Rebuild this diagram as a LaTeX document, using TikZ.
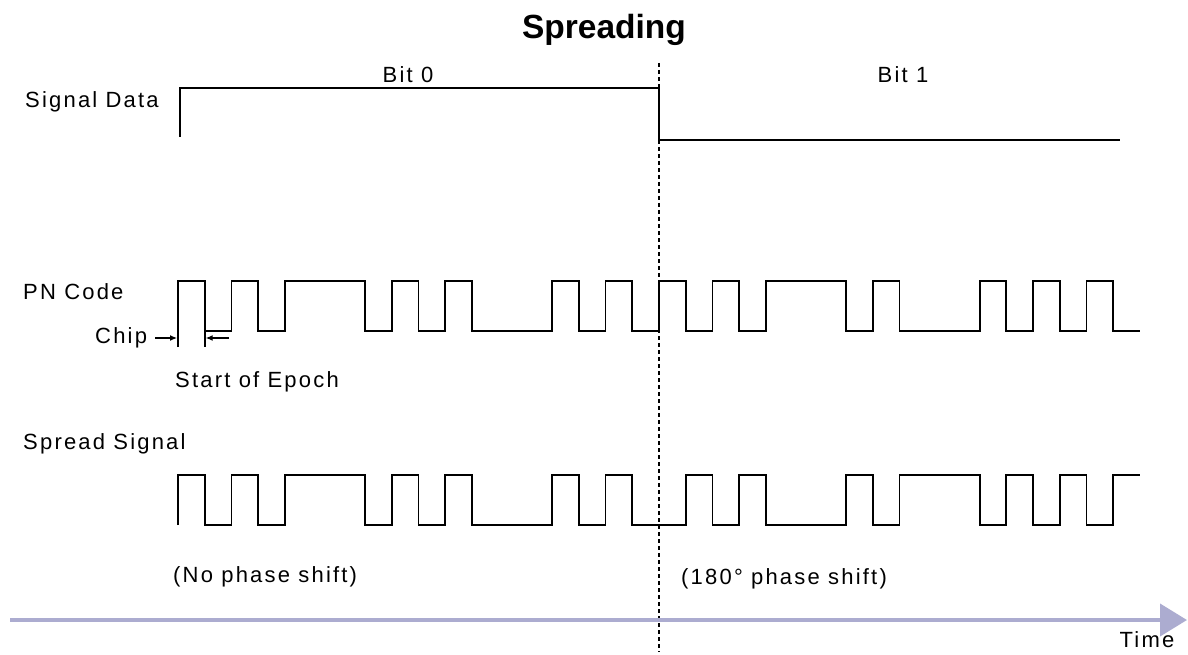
\documentclass[tikz,border=0pt]{standalone}
\usepackage{fontspec}
\setmainfont[LetterSpace=10]{Liberation Sans}
\newfontfamily\titlefont{Liberation Sans}
\usetikzlibrary{arrows.meta}
\definecolor{timeaxis}{RGB}{172,172,208}
\newcommand\pnbits{1,0,1,0,1,1,1,0,1,0,1,0,0,0,1,0,1,0,1,0,1,0,1,1,1,0,1,0,0,0,1,0,1,0,1,0}
\newcommand\chipw{26.72}

\begin{document}
\begin{tikzpicture}[x=1pt,y=-1pt,
  every node/.style={font=\fontsize{22}{26}\selectfont,inner sep=0pt},
  lbl/.style={anchor=west},
  wave/.style={line width=1.8pt,line join=miter},
  chiparrow/.style={line width=1.2pt,-{Latex[length=7pt,width=6pt]}},
  bitline/.style={line width=1.6pt,dash pattern=on 4pt off 3pt},
  timeline/.style={timeaxis,line width=4pt,-{Triangle[length=27pt,width=32pt]}}]
\useasboundingbox (0,0) rectangle (1188,655);
\node (title) at (604,30) {\titlefont\bfseries\fontsize{33.5}{40}\selectfont Spreading};
\node (bit0) at (408,75) {Bit 0};
\node (bit1) at (903,75) {Bit 1};
\node[lbl] (lbldata) at (25,102) {Signal Data};
\node[lbl] (lblpn) at (23,292) {PN Code};
\node[lbl] (lblchip) at (95,338) {Chip};
\node[lbl] (lblepoch) at (175,382) {Start of Epoch};
\node[lbl] (lblspread) at (23,444) {Spread Signal};
\node[lbl] (noshift) at (173,577) {(No phase shift)};
\node[lbl] (shift) at (681,579) {(180° phase shift)};
\node (time) at (1147,640) {Time};

% data bits
\draw[wave] (180,137) -- (180,88) -- (659,88) -- (659,140) -- (1120,140);
% pn code, 18 chips per bit
\draw[wave] (178,347) \foreach \b [count=\i from 0] in \pnbits
  {-- ({178+\i*\chipw},{331-50*\b}) -- ({178+(\i+1)*\chipw},{331-50*\b})};
\draw[wave] ({178+\chipw},331) -- ({178+\chipw},347);
% spread signal = pn code, inverted during bit 1
\draw[wave] (178,525) \foreach \b [count=\i from 0] in \pnbits
  {-- ({178+\i*\chipw},{525-50*(\b+(\i>17)*(1-2*\b))}) -- ({178+(\i+1)*\chipw},{525-50*(\b+(\i>17)*(1-2*\b))})};

\coordinate (chipL) at (177,338);
\coordinate (chipR) at ({178+\chipw+1},338);
\coordinate (chipRr) at (229,338);
\draw[chiparrow] (lblchip.east) ++(8,0) -- (chipL);
\draw[chiparrow] (chipRr) -- (chipR);

\coordinate (dtop) at (659,63);
\coordinate (dbot) at (659,652);
\draw[bitline] (dtop) -- (dbot);

\coordinate (t0) at (10,620);
\coordinate (t1) at (1187,620);
\draw[timeline] (t0) -- (t1);
\end{tikzpicture}
\end{document}
